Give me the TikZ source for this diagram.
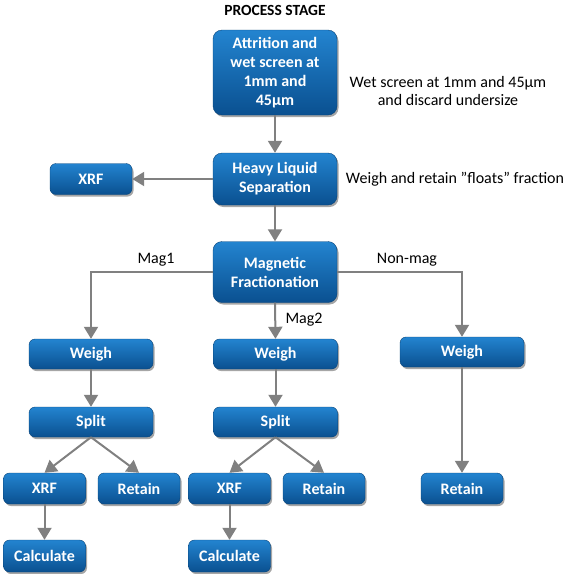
\documentclass[tikz,border=0pt]{standalone}
\usepackage{fontspec}
\setmainfont{Carlito}
\usetikzlibrary{arrows.meta,shadows}
\definecolor{boxtop}{HTML}{2384D0}
\definecolor{boxbot}{HTML}{0A5090}
\definecolor{linegray}{HTML}{808080}
\tikzset{
  stagebox/.style={rounded corners=6pt, top color=boxtop, bottom color=boxbot,
    draw=boxbot!85!black, line width=0.4pt, text=white, align=center, inner sep=0pt,
    font=\bfseries\fontsize{16}{19}\selectfont,
    drop shadow={shadow xshift=1.5pt, shadow yshift=-2pt, fill=black, opacity=0.35}},
  bigbox/.style={stagebox, rounded corners=9pt, minimum width=124pt},
  smallbox/.style={stagebox, minimum width=82pt, minimum height=31pt},
  widebox/.style={stagebox, minimum width=124pt, minimum height=30pt},
  note/.style={font=\fontsize{16}{18}\selectfont, align=center, inner sep=0pt},
  flow/.style={draw=linegray, line width=2pt, -{Triangle[length=12pt,width=14pt]}},
}
\begin{document}
\begin{tikzpicture}[x=1pt,y=-1pt]
  \useasboundingbox (0,0) rectangle (566,574);
  \node[font=\bfseries\fontsize{15.5}{18}\selectfont, inner sep=0pt] (title) at (275,10) {PROCESS STAGE};
  % main line
  \node[bigbox, minimum height=85pt] (attr) at (275,72.5) {Attrition and\\wet screen at\\1mm and\\45µm};
  \node[bigbox, minimum height=52pt] (heavy) at (275,179) {Heavy Liquid\\Separation};
  \node[smallbox] (xrf) at (91,179) {XRF};
  \node[bigbox, minimum height=61pt] (magn) at (275,272) {Magnetic\\Fractionation};
  % notes
  \node[note] (wetnote) at (448,91) {Wet screen at 1mm and 45µm\\and discard undersize};
  \node[note] (floatnote) at (455,179) {Weigh and retain ”floats” fraction};
  % branches
  \node[widebox] (weighA) at (91,354) {Weigh};
  \node[widebox] (weighB) at (275.5,354) {Weigh};
  \node[widebox] (weighC) at (462,352) {Weigh};
  \node[widebox] (splitA) at (91,422) {Split};
  \node[widebox] (splitB) at (275.5,422) {Split};
  \node[smallbox] (xrfA) at (44.5,488.5) {XRF};
  \node[smallbox] (retA) at (139,488.5) {Retain};
  \node[smallbox] (xrfB) at (229.5,488.5) {XRF};
  \node[smallbox] (retB) at (324,488.5) {Retain};
  \node[smallbox] (retC) at (462,488.5) {Retain};
  \node[smallbox, minimum height=32pt] (calcA) at (44.5,556) {Calculate};
  \node[smallbox, minimum height=32pt] (calcB) at (229.5,556) {Calculate};
  \node[note] (mag1) at (156,260) {Mag1};
  \node[note] (mag2) at (304,320) {Mag2};
  \node[note] (nonmag) at (407,260) {Non-mag};
  % connectors
  \draw[flow] (attr) -- (heavy);
  \draw[flow] (heavy) -- (xrf);
  \draw[flow] (heavy) -- (magn);
  \draw[flow] (magn.west) -| (weighA.north);
  \draw[flow] (magn.south) -- (weighB.north);
  \draw[flow] (magn.east) -| (weighC.north);
  \draw[flow] (weighA) -- (splitA);
  \draw[flow] (weighB) -- (splitB);
  \draw[flow] (weighC) -- (retC);
  \draw[flow] (splitA.south) -- (xrfA.north);
  \draw[flow] (splitA.south) -- (retA.north);
  \draw[flow] (splitB.south) -- (xrfB.north);
  \draw[flow] (splitB.south) -- (retB.north);
  \draw[flow] (xrfA) -- (calcA);
  \draw[flow] (xrfB) -- (calcB);
\end{tikzpicture}
\end{document}
